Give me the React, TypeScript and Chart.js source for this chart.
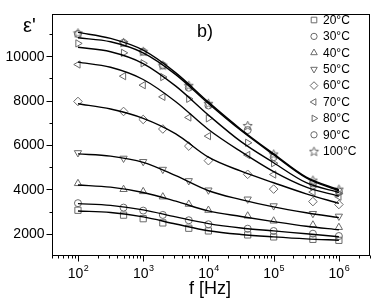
import React, { useEffect, useRef } from 'react';
import { Chart, registerables } from 'chart.js';
import * as helpers from 'chart.js/helpers';

Chart.register(...registerables);

// ---- data ----
const freqs = [100, 500, 1000, 2000, 5000, 10000, 40000, 100000, 400000, 1000000];
const fitFreqs = [100, 316, 1000, 3162, 10000, 31623, 100000, 316228, 1000000];
const seriesLabels = ['20°C', '30°C', '40°C', '50°C', '60°C', '70°C', '80°C', '90°C', '100°C'];

const t20 = [3060, 2840, 2680, 2490, 2250, 2130, 1950, 1860, 1750, 1705];
const t30 = [3380, 3180, 3045, 2850, 2610, 2430, 2230, 2126, 2005, 1900];
const t40 = [4267, 4000, 3905, 3665, 3334, 3063, 2805, 2579, 2398, 2290];
const t50 = [5650, 5400, 5250, 4900, 4389, 3968, 3561, 3258, 2910, 2790];
const t60 = [7960, 7510, 7150, 6720, 5950, 5294, 4680, 4013, 3452, 3320];
const t70 = [9625, 9100, 8695, 8170, 7240, 6400, 5550, 4670, 3880, 3670];
const t80 = [10575, 10150, 9680, 9060, 8080, 7200, 6100, 5180, 4120, 3814];
const t90 = [11000, 10600, 10200, 9580, 8580, 7780, 6670, 5450, 4270, 3905];
const t100 = [11050, 10620, 10220, 9600, 8690, 7880, 6880, 5597, 4420, 4013];

const fit20 = [3030, 2960, 2760, 2440, 2140, 1970, 1860, 1770, 1710];
const fit30 = [3360, 3280, 3080, 2760, 2460, 2260, 2130, 2000, 1870];
const fit40 = [4200, 4100, 3860, 3470, 3030, 2780, 2550, 2340, 2180];
const fit50 = [5600, 5500, 5220, 4620, 3940, 3540, 3210, 2950, 2730];
const fit60 = [7860, 7620, 7200, 6500, 5450, 4820, 4300, 3800, 3370];
const fit70 = [9730, 9500, 8950, 7950, 6700, 5700, 4800, 4100, 3700];
const fit80 = [10400, 10200, 9670, 8650, 7350, 6150, 5200, 4300, 3860];
const fit90 = [10830, 10650, 10150, 9170, 7870, 6650, 5560, 4520, 3940];
const fit100 = [11070, 10800, 10270, 9250, 7930, 6700, 5600, 4550, 3980];

const yMajorTicks = [2000, 4000, 6000, 8000, 10000];
const yMinorTicks = [3000, 5000, 7000, 9000, 11000];
const xDecades = [2, 3, 4, 5, 6];

const pointSeries = [t20, t30, t40, t50, t60, t70, t80, t90, t100];
const fitSeries = [fit20, fit30, fit40, fit50, fit60, fit70, fit80, fit90, fit100];

const MARK = '#6a6a6a';
const FONT = '"Liberation Sans", Arial, Helvetica, sans-serif';

function makeStar(): HTMLCanvasElement {
  const c = document.createElement('canvas');
  c.width = 11;
  c.height = 11;
  const g = c.getContext('2d')!;
  g.strokeStyle = MARK;
  g.lineWidth = 1;
  g.beginPath();
  for (let i = 0; i < 10; i++) {
    const r = i % 2 === 0 ? 4.8 : 2.1;
    const a = -Math.PI / 2 + (i * Math.PI) / 5;
    const px = 5.5 + r * Math.cos(a);
    const py = 6 + r * Math.sin(a);
    if (i === 0) g.moveTo(px, py);
    else g.lineTo(px, py);
  }
  g.closePath();
  g.stroke();
  return c;
}

export default function App() {
  const ref = useRef<HTMLCanvasElement>(null);

  useEffect(() => {
    if (!ref.current) return;
    const star = makeStar();
    const styles: any[] = ['rect', 'circle', 'triangle', 'triangle', 'rectRot', 'triangle', 'triangle', 'circle', star];
    const rotations = [0, 0, 0, 180, 0, 270, 90, 0, 0];
    const radii = [4.4, 3.5, 4.2, 4.2, 4.3, 4.2, 4.2, 3.5, 5];

    const datasets: any[] = [];
    fitSeries.forEach((fs, i) => {
      datasets.push({
        label: 'fit ' + seriesLabels[i],
        data: fitFreqs.map((f, j) => ({ x: f, y: fs[j] })),
        showLine: true,
        borderColor: '#000',
        borderWidth: 1.4,
        pointRadius: 0,
        cubicInterpolationMode: 'monotone',
        fill: false,
        isFit: true,
      });
    });
    pointSeries.forEach((ps, i) => {
      datasets.push({
        label: seriesLabels[i],
        data: freqs.map((f, j) => ({ x: f, y: ps[j] })),
        showLine: false,
        pointStyle: styles[i],
        pointRotation: rotations[i],
        pointRadius: radii[i],
        pointBorderColor: MARK,
        pointBackgroundColor: 'rgba(0,0,0,0)',
        pointBorderWidth: 1,
      });
    });

    const axesPlugin = {
      id: 'axesPlugin',
      afterDraw(chart: any) {
        const ctx = chart.ctx as CanvasRenderingContext2D;
        const { left, right, top, bottom } = chart.chartArea;
        const xs = chart.scales.x;
        const ys = chart.scales.y;
        ctx.save();
        ctx.strokeStyle = '#000';
        ctx.fillStyle = '#000';
        ctx.lineWidth = 1;
        const L = Math.round(left) + 0.5;
        const R = Math.round(right) - 0.5;
        const T = Math.round(top) + 0.5;
        const B = Math.round(bottom) - 0.5;
        ctx.strokeRect(L, T, R - L, B - T);

        // y ticks
        ctx.beginPath();
        yMajorTicks.forEach((v) => {
          const py = Math.round(ys.getPixelForValue(v)) + 0.5;
          ctx.moveTo(L - 6, py);
          ctx.lineTo(L, py);
        });
        yMinorTicks.forEach((v) => {
          const py = Math.round(ys.getPixelForValue(v)) + 0.5;
          ctx.moveTo(L - 3, py);
          ctx.lineTo(L, py);
        });
        // x ticks
        xDecades.forEach((d) => {
          const px = Math.round(xs.getPixelForValue(Math.pow(10, d))) + 0.5;
          ctx.moveTo(px, B);
          ctx.lineTo(px, B + 6);
        });
        for (let d = 1; d <= 6; d++) {
          for (let k = 2; k <= 9; k++) {
            const v = k * Math.pow(10, d);
            if (v < xs.min || v > xs.max) continue;
            const px = Math.round(xs.getPixelForValue(v)) + 0.5;
            ctx.moveTo(px, B);
            ctx.lineTo(px, B + 3);
          }
        }
        ctx.stroke();

        // y labels
        ctx.font = '14px ' + FONT;
        ctx.textAlign = 'right';
        ctx.textBaseline = 'middle';
        yMajorTicks.forEach((v) => {
          ctx.fillText(String(v), L - 8, ys.getPixelForValue(v) + 0.5);
        });

        // x labels 10^n
        ctx.textBaseline = 'alphabetic';
        ctx.textAlign = 'left';
        xDecades.forEach((d) => {
          const px = xs.getPixelForValue(Math.pow(10, d));
          ctx.font = '14px ' + FONT;
          const w1 = ctx.measureText('10').width;
          ctx.font = '9px ' + FONT;
          const w2 = ctx.measureText(String(d)).width;
          const x0 = px - (w1 + w2) / 2;
          ctx.font = '14px ' + FONT;
          ctx.fillText('10', x0, 278);
          ctx.font = '9px ' + FONT;
          ctx.fillText(String(d), x0 + w1 + 0.5, 271);
        });

        // axis titles
        ctx.font = '18px ' + FONT;
        ctx.textAlign = 'center';
        ctx.fillText('f [Hz]', 210, 294);
        ctx.textAlign = 'left';
        ctx.font = '20px ' + FONT;
        ctx.fillText("ε'", 23, 32);
        ctx.font = '18px ' + FONT;
        ctx.fillText('b)', 197, 37);

        // legend
        ctx.font = '12px ' + FONT;
        ctx.textBaseline = 'middle';
        seriesLabels.forEach((lab, i) => {
          const cy = 20 + i * 16.4;
          ctx.strokeStyle = MARK;
          ctx.fillStyle = 'rgba(0,0,0,0)';
          ctx.lineWidth = 1;
          (helpers as any).drawPoint(
            ctx,
            { pointStyle: styles[i], rotation: rotations[i], radius: radii[i] * 0.9, borderWidth: 1 },
            314,
            cy
          );
          ctx.fillStyle = '#000';
          ctx.fillText(lab, 323, cy + 0.5);
        });
        ctx.restore();
      },
    };

    const chart = new Chart(ref.current, {
      type: 'scatter',
      data: { datasets },
      options: {
        animation: false,
        responsive: false,
        devicePixelRatio: 1,
        layout: { padding: { left: 52, right: 22, top: 14, bottom: 48 } },
        plugins: { legend: { display: false }, tooltip: { enabled: false } },
        scales: {
          x: { type: 'logarithmic', min: 40, max: 3000000, display: false },
          y: { type: 'linear', min: 1000, max: 11900, display: false },
        },
      },
      plugins: [axesPlugin],
    } as any);
    return () => chart.destroy();
  }, []);

  return (
    <div style={{ position: 'absolute', left: 0, top: 0, width: 392, height: 304, background: '#fff' }}>
      <canvas ref={ref} width={392} height={304} style={{ width: 392, height: 304 }} />
    </div>
  );
}
